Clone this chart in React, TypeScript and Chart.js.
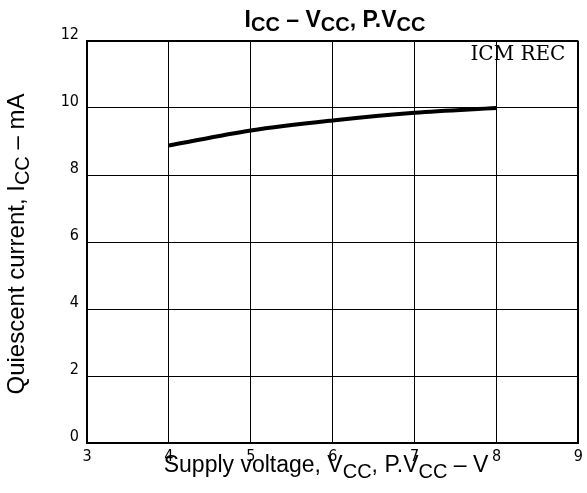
import React, { useEffect, useRef } from "react";
import { Chart, registerables } from "chart.js";

Chart.register(...registerables);

// ---- data ----
const supplyVoltage = [4, 5, 6, 7, 8];
const quiescentCurrent = [8.88, 9.33, 9.63, 9.86, 10.0];
const xTickValues = [3, 4, 5, 6, 7, 8, 9];
const yTickValues = [0, 2, 4, 6, 8, 10, 12];
const titleParts: [string, boolean][] = [["I", false], ["CC", true], [" – V", false], ["CC", true], [", P.V", false], ["CC", true]];
const xTitleParts: [string, boolean][] = [["Supply voltage, V", false], ["CC", true], [", P.V", false], ["CC", true], [" – V", false]];
const yTitleParts: [string, boolean][] = [["Quiescent current, I", false], ["CC", true], [" – mA", false]];
const cornerLabel = "ICM REC";

const SANS = "'Liberation Sans', Arial, sans-serif";
const TICK_FONT = "'DejaVu Sans Condensed', 'DejaVu Sans', sans-serif";

function drawParts(
  ctx: CanvasRenderingContext2D,
  parts: [string, boolean][],
  cx: number,
  baseline: number,
  mainFont: string,
  subFont: string,
  subDy: number
) {
  let total = 0;
  const widths = parts.map(([t, sub]) => {
    ctx.font = sub ? subFont : mainFont;
    const w = ctx.measureText(t).width;
    total += w;
    return w;
  });
  let x = cx - total / 2;
  ctx.textAlign = "left";
  ctx.textBaseline = "alphabetic";
  parts.forEach(([t, sub], i) => {
    ctx.font = sub ? subFont : mainFont;
    ctx.fillText(t, x, baseline + (sub ? subDy : 0));
    x += widths[i];
  });
}

const textPlugin = {
  id: "textPlugin",
  afterDraw(chart: any) {
    const ctx = chart.ctx as CanvasRenderingContext2D;
    const a = chart.chartArea;
    ctx.save();
    ctx.fillStyle = "#000";
    // title
    drawParts(ctx, titleParts, 335, 27, `bold 23px ${SANS}`, `bold 20px ${SANS}`, 4);
    // x title
    drawParts(ctx, xTitleParts, 326, 472, `23px ${SANS}`, `20px ${SANS}`, 6);
    // y title
    ctx.save();
    ctx.translate(24, 244);
    ctx.rotate(-Math.PI / 2);
    drawParts(ctx, yTitleParts, 0, 0, `24px ${SANS}`, `20px ${SANS}`, 5);
    ctx.restore();
    // corner label
    ctx.font = "20px 'DejaVu Serif', serif";
    ctx.textAlign = "right";
    ctx.textBaseline = "alphabetic";
    ctx.fillText(cornerLabel, a.right - 13, a.top + 19);
    ctx.restore();
  },
};

export default function App() {
  const ref = useRef<HTMLCanvasElement | null>(null);
  useEffect(() => {
    if (!ref.current) return;
    const chart = new Chart(ref.current, {
      type: "line",
      data: {
        datasets: [
          {
            data: supplyVoltage.map((v, i) => ({ x: v, y: quiescentCurrent[i] })),
            borderColor: "#000",
            borderWidth: 4,
            pointRadius: 0,
            tension: 0.4,
            cubicInterpolationMode: "monotone",
            fill: false,
          },
        ],
      },
      options: {
        animation: false,
        responsive: false,
        devicePixelRatio: 1,
        layout: { padding: { top: 41, right: 6, left: 0, bottom: 0 } },
        plugins: { legend: { display: false }, tooltip: { enabled: false }, title: { display: false } },
        scales: {
          x: {
            type: "linear",
            min: 3,
            max: 9,
            afterBuildTicks: (s: any) => {
              s.ticks = xTickValues.map((v) => ({ value: v }));
            },
            afterFit: (s: any) => {
              s.height = 50;
            },
            grid: {
              color: "#000",
              lineWidth: (c: any) => (c.tick && c.tick.value === 9 ? 2 : 1),
              drawTicks: false,
            },
            border: { display: true, color: "#000", width: 2 },
            ticks: {
              color: "#000",
              padding: 4,
              font: { family: TICK_FONT, size: 16 },
              maxRotation: 0,
            },
          },
          y: {
            type: "linear",
            min: 0,
            max: 12,
            afterBuildTicks: (s: any) => {
              s.ticks = yTickValues.map((v) => ({ value: v }));
            },
            afterFit: (s: any) => {
              s.width = 87;
            },
            grid: {
              color: "#000",
              lineWidth: (c: any) => (c.tick && c.tick.value === 12 ? 2 : 1),
              drawTicks: false,
            },
            border: { display: true, color: "#000", width: 2 },
            ticks: {
              color: "#000",
              padding: 8,
              labelOffset: -6,
              font: { family: TICK_FONT, size: 16 },
            },
          },
        },
      },
      plugins: [textPlugin],
    } as any);
    return () => chart.destroy();
  }, []);
  return (
    <div style={{ position: "absolute", left: 0, top: 0, width: 587, height: 493, background: "#fff" }}>
      <canvas ref={ref} width={587} height={493} />
    </div>
  );
}
